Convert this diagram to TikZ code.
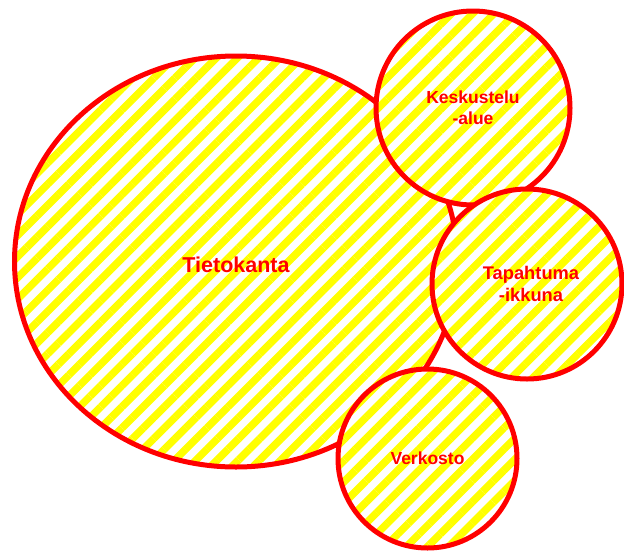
\documentclass[tikz,border=0pt]{standalone}
\usepackage{fontspec}
\newfontfamily\blobfont{Liberation Sans}
\usepackage{tikz}
\usetikzlibrary{shapes.geometric,patterns.meta}

\begin{document}
\begin{tikzpicture}[
  x=1pt, y=-1pt,
  blob/.style={draw=red, line width=5pt, text=red, align=center, inner sep=0pt,
    preaction={fill=white},
    pattern={Lines[angle=45, distance=15pt, line width=7.5pt]}, pattern color=yellow},
  big/.style={blob, ellipse, font=\blobfont\bfseries\fontsize{21.5}{23}\selectfont},
  small/.style={blob, circle, font=\blobfont\bfseries\fontsize{17.5}{21}\selectfont}
]
\useasboundingbox (0,0) rectangle (624,550);
\node[big, minimum width=443pt, minimum height=411pt] (tieto) at (236,261.5) {\raisebox{-11pt}[0pt][0pt]{Tietokanta}};
\node[small, minimum size=194pt] (keskus) at (473,108) {Keskustelu\\-alue};
\node[small, minimum size=190pt, font=\blobfont\bfseries\fontsize{18.3}{22}\selectfont] (tapahtuma) at (527,284) {\hspace*{8pt}Tapahtuma\\\hspace*{8pt}-ikkuna};
\node[small, minimum size=179pt] (verkko) at (427.5,458.5) {Verkosto};
\end{tikzpicture}
\end{document}
